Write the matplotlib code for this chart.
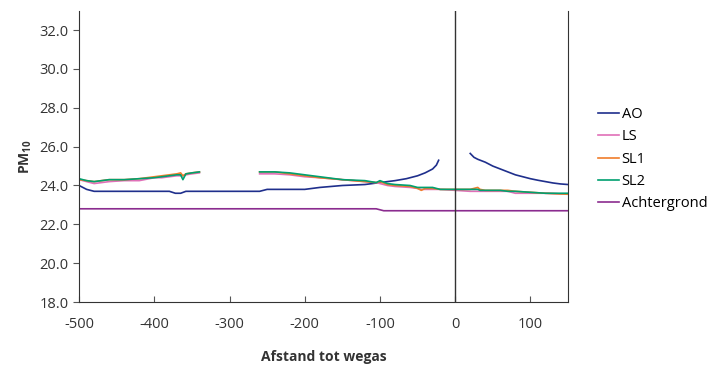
import numpy as np
import matplotlib.pyplot as plt

plt.rcParams['font.family'] = ['Open Sans', 'DejaVu Sans']
plt.rcParams['axes.unicode_minus'] = False

# AO (two branches, gap around the road)
ao_x1 = [-500, -490, -480, -470, -440, -400, -380, -372, -365, -358, -340, -300, -260, -250, -220, -200, -180, -150, -120, -100, -80, -65, -50, -40, -30, -25, -22]
ao_y1 = [24.0, 23.8, 23.7, 23.7, 23.7, 23.7, 23.7, 23.6, 23.6, 23.7, 23.7, 23.7, 23.7, 23.8, 23.8, 23.8, 23.9, 24.0, 24.05, 24.15, 24.25, 24.35, 24.5, 24.65, 24.85, 25.05, 25.3]
ao_x2 = [20, 25, 30, 40, 50, 60, 70, 80, 90, 100, 110, 120, 130, 140, 150]
ao_y2 = [25.65, 25.45, 25.35, 25.2, 25.0, 24.85, 24.7, 24.55, 24.45, 24.35, 24.27, 24.2, 24.13, 24.08, 24.05]

# LS, SL1, SL2 (gap -340 .. -260)
s_x1 = [-500, -490, -480, -470, -460, -440, -420, -400, -390, -380, -370, -365, -362, -358, -350, -340]
ls_y1 = [24.3, 24.2, 24.1, 24.15, 24.2, 24.25, 24.25, 24.4, 24.4, 24.45, 24.5, 24.5, 24.5, 24.55, 24.6, 24.65]
sl1_y1 = [24.3, 24.25, 24.2, 24.25, 24.3, 24.3, 24.35, 24.45, 24.5, 24.55, 24.6, 24.65, 24.5, 24.6, 24.65, 24.7]
sl2_y1 = [24.35, 24.25, 24.2, 24.25, 24.3, 24.3, 24.35, 24.4, 24.45, 24.5, 24.55, 24.55, 24.3, 24.6, 24.65, 24.7]
s_x2 = [-260, -240, -220, -200, -180, -150, -120, -105, -100, -90, -80, -60, -50, -45, -40, -30, -20, 0, 20, 30, 33, 40, 60, 70, 80, 100, 120, 150]
ls_y2 = [24.6, 24.6, 24.55, 24.45, 24.4, 24.3, 24.2, 24.15, 24.1, 24.0, 23.95, 23.9, 23.85, 23.8, 23.8, 23.8, 23.8, 23.75, 23.7, 23.7, 23.7, 23.7, 23.7, 23.7, 23.6, 23.6, 23.6, 23.55]
sl1_y2 = [24.7, 24.7, 24.6, 24.5, 24.4, 24.3, 24.2, 24.15, 24.2, 24.05, 24.0, 23.95, 23.85, 23.75, 23.85, 23.85, 23.8, 23.8, 23.8, 23.9, 23.8, 23.75, 23.75, 23.75, 23.7, 23.65, 23.6, 23.55]
sl2_y2 = [24.7, 24.7, 24.65, 24.55, 24.45, 24.3, 24.25, 24.15, 24.25, 24.1, 24.05, 24.0, 23.9, 23.9, 23.9, 23.9, 23.8, 23.8, 23.8, 23.8, 23.75, 23.75, 23.75, 23.7, 23.7, 23.65, 23.6, 23.6]

# Achtergrond
bg_x = [-500, -105, -95, 150]
bg_y = [22.8, 22.8, 22.7, 22.7]

fig = plt.figure(figsize=(7.19, 3.65), dpi=100)
ax = fig.add_axes([0.110, 0.1726, 0.680, 0.798])

c_ao = '#1f2f8c'
c_ls = '#e070b8'
c_sl1 = '#f07d2a'
c_sl2 = '#00a070'
c_bg = '#8b2c8f'

ax.plot(ao_x1, ao_y1, color=c_ao, lw=1.2, label='AO')
ax.plot(ao_x2, ao_y2, color=c_ao, lw=1.2)
ax.plot(s_x1, ls_y1, color=c_ls, lw=1.2, label='LS')
ax.plot(s_x2, ls_y2, color=c_ls, lw=1.2)
ax.plot(s_x1, sl1_y1, color=c_sl1, lw=1.2, label='SL1')
ax.plot(s_x2, sl1_y2, color=c_sl1, lw=1.2)
ax.plot(s_x1, sl2_y1, color=c_sl2, lw=1.2, label='SL2')
ax.plot(s_x2, sl2_y2, color=c_sl2, lw=1.2)
ax.plot(bg_x, bg_y, color=c_bg, lw=1.2, label='Achtergrond')

ax.axvline(0, color='#333333', lw=1)

ax.set_xlim(-500, 150)
ax.set_ylim(18, 33)
ax.set_xticks(np.arange(-500, 101, 100))
ax.set_yticks(np.arange(18, 33, 2))
ax.set_yticklabels(['%.1f' % v for v in np.arange(18, 33, 2)])

for s in ['left', 'bottom', 'right']:
    ax.spines[s].set_color('#333333')
ax.spines['top'].set_visible(False)
ax.tick_params(axis='x', direction='in', length=4, color='#555555', labelsize=10.5, labelcolor='#333333', pad=11)
ax.tick_params(axis='y', direction='out', length=4, color='#555555', labelsize=10.5, labelcolor='#333333', right=False)

ax.set_xlabel('Afstand tot wegas', fontsize=10, fontweight='bold', color='#333333', labelpad=13)
ax.set_ylabel('PM$_{\\mathregular{10}}$', fontsize=10, fontweight='bold', color='#333333', labelpad=4)

ax.legend(loc='center left', bbox_to_anchor=(1.035, 0.49), frameon=False, fontsize=10.5,
          handlelength=1.4, handletextpad=0.2, labelspacing=0.5)

fig.savefig('out.png', dpi=100)
